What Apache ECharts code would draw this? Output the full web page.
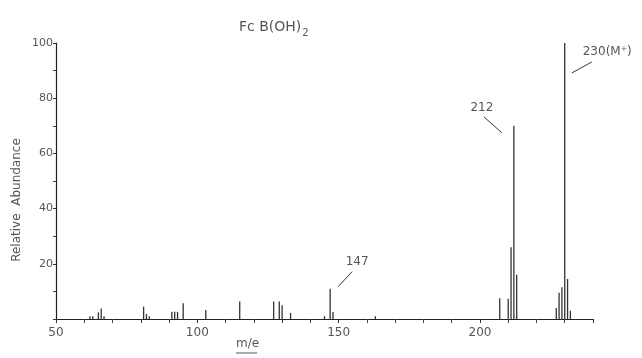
<!DOCTYPE html>
<html>
<head>
<meta charset="utf-8">
<script src="https://cdn.jsdelivr.net/npm/echarts@6/dist/echarts.min.js"></script>
<style>
  html, body { margin: 0; padding: 0; background: #fff; }
  #chart { width: 642px; height: 358px; }
</style>
</head>
<body>
<div id="chart"></div>
<script>
// m/z of each peak and its relative abundance (%)
const massToCharge = [62, 63, 65, 66, 67, 81, 82, 83, 91, 92, 93, 95, 103, 115,
    127, 129, 130, 133, 145, 147, 148, 163, 207, 210, 211, 212, 213,
    227, 228, 229, 230, 231, 232];
const abundance = [1, 1, 2.4, 3.8, 1, 4.5, 1.8, 1, 2.6, 2.6, 2.6, 5.7, 3.3, 6.3,
    6.3, 6.3, 5, 2.2, 1, 11, 2.5, 1, 7.5, 7.3, 26, 70, 16,
    4, 9.5, 11.5, 100, 14.5, 3];

const annotatedPeaks = [147, 212, 230];
const annotationTexts = ['147', '212', '230(M\u207A)'];

const textColor = '#555';
const fontFamily = 'DejaVu Sans';

const chart = echarts.init(document.getElementById('chart'));

const option = {
    animation: false,
    title: {
        text: 'Fc B(OH){sub|2}',
        left: 234,
        top: 12,
        textStyle: {
            fontSize: 14,
            fontWeight: 'normal',
            color: textColor,
            fontFamily: fontFamily,
            rich: {
                sub: { fontSize: 10, color: textColor, padding: [11, 0, 0, 1] }
            }
        }
    },
    grid: { left: 56, right: 49, top: 43, bottom: 39 },
    xAxis: {
        type: 'value',
        min: 50,
        max: 240,
        interval: 50,
        axisLine: { lineStyle: { color: '#222', width: 1.2 } },
        axisTick: { show: true, length: 4, lineStyle: { color: '#333' } },
        minorTick: { show: true, splitNumber: 5, length: 4, lineStyle: { color: '#444' } },
        axisLabel: {
            showMaxLabel: false,
            fontSize: 12,
            color: textColor,
            fontFamily: fontFamily,
            margin: 8
        },
        splitLine: { show: false }
    },
    yAxis: {
        type: 'value',
        min: 0,
        max: 100,
        interval: 20,
        axisLine: { show: true, lineStyle: { color: '#222', width: 1.2 } },
        axisTick: { show: true, length: 3, lineStyle: { color: '#333' } },
        minorTick: { show: true, splitNumber: 2, length: 3, lineStyle: { color: '#444' } },
        axisLabel: {
            showMinLabel: false,
            fontSize: 11,
            color: textColor,
            fontFamily: fontFamily,
            margin: 3
        },
        splitLine: { show: false }
    },
    series: [{
        type: 'bar',
        barWidth: 1.3,
        itemStyle: { color: '#333' },
        data: massToCharge.map((m, i) => [m, abundance[i]])
    }]
};
chart.setOption(option);

// leader lines and labels, placed relative to each annotated peak top
const labelOffsets = {
    147: { line: [[8, -2], [22, -17]], text: [27, -27], align: 'center' },
    212: { line: [[-12, 7], [-30, -9]], text: [-32, -18], align: 'center' },
    230: { line: [[7, 30], [27, 19]], text: [18, 9], align: 'left' }
};

const graphics = [];
annotatedPeaks.forEach((m, i) => {
    const top = chart.convertToPixel({ seriesIndex: 0 }, [m, abundance[massToCharge.indexOf(m)]]);
    const o = labelOffsets[m];
    graphics.push({
        type: 'line',
        shape: {
            x1: top[0] + o.line[0][0], y1: top[1] + o.line[0][1],
            x2: top[0] + o.line[1][0], y2: top[1] + o.line[1][1]
        },
        style: { stroke: '#333', lineWidth: 1 }
    });
    graphics.push({
        type: 'text',
        x: top[0] + o.text[0],
        y: top[1] + o.text[1],
        style: {
            text: annotationTexts[i],
            fill: textColor,
            font: '12px ' + fontFamily,
            textAlign: o.align,
            textVerticalAlign: 'middle'
        }
    });
});

// rotated y axis title, sitting a little below the plot middle as in the original
graphics.push({
    type: 'text',
    x: 17,
    y: 200,
    rotation: Math.PI / 2,
    style: {
        text: 'Relative  Abundance',
        fill: textColor,
        font: '12px ' + fontFamily,
        textAlign: 'center',
        textVerticalAlign: 'middle'
    }
});

// underlined m/e axis title
graphics.push({
    type: 'text',
    left: 236,
    top: 338,
    style: { text: 'm/e', fill: textColor, font: '12px ' + fontFamily }
});
graphics.push({
    type: 'line',
    shape: { x1: 236, y1: 353, x2: 257, y2: 353 },
    style: { stroke: textColor, lineWidth: 1 }
});

chart.setOption({ graphic: graphics });
</script>
</body>
</html>
